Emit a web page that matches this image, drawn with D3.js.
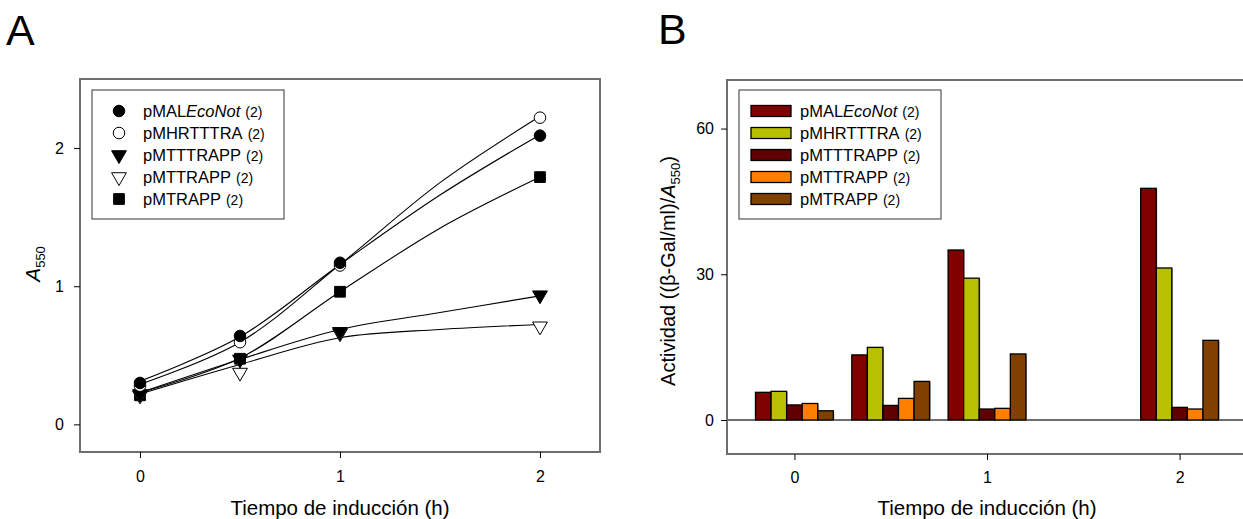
<!DOCTYPE html>
<html><head><meta charset="utf-8">
<script src="https://cdn.jsdelivr.net/npm/d3@7"></script>
<style>body{margin:0;background:#fff}svg{display:block}text{font-family:"Liberation Sans",Arial,sans-serif}</style>
</head><body><svg id="c" width="1243" height="519"></svg>
<script>
// ---------- data ----------
const seriesNames = ["pMAL", "pMHRTTTRA", "pMTTTRAPP", "pMTTRAPP", "pMTRAPP"];
const timesA = [0, 0.5, 1, 2];
const pMALEcoNot = [0.30, 0.64, 1.17, 2.09];
const pMHRTTTRA = [0.28, 0.595, 1.15, 2.22];
const pMTTTRAPP = [0.22, 0.47, 0.67, 0.935];
const pMTTRAPP = [0.21, 0.375, 0.66, 0.71];
const pMTRAPP = [0.21, 0.475, 0.96, 1.79];
// fitted curves
const fitTimes = [0, 0.5, 1, 1.5, 2];
const fitMAL = [0.313, 0.634, 1.157, 1.66, 2.097];
const fitMHR = [0.29, 0.595, 1.157, 1.75, 2.23];
const fitTTT = [0.23, 0.47, 0.687, 0.81, 0.93];
const fitTT = [0.22, 0.434, 0.627, 0.687, 0.723];
const fitTR = [0.23, 0.48, 0.96, 1.42, 1.79];
const xTicksA = [0, 1, 2];
const yTicksA = [0, 1, 2];

const timesB = [0, 0.5, 1, 2];
const actMAL = [5.7, 13.4, 35.0, 47.7];
const actMHR = [5.9, 14.95, 29.2, 31.3];
const actTTT = [3.1, 3.0, 2.26, 2.6];
const actTT = [3.4, 4.45, 2.4, 2.26];
const actTR = [1.9, 7.95, 13.6, 16.4];
const xTicksB = [0, 1, 2];
const yTicksB = [0, 30, 60];
const barColors = ["#800000", "#b8c000", "#600000", "#ff8000", "#804000"];

const svg = d3.select("#c");
const frameColor = "#6e6e6e";

function legendLabel(g, x, y, i) {
  const t = g.append("text").attr("x", x).attr("y", y).attr("font-size", 16.5).attr("fill", "#000");
  if (i === 0) {
    t.append("tspan").text("pMAL");
    t.append("tspan").attr("font-style", "italic").text("EcoNot");
  } else {
    t.append("tspan").text(seriesNames[i]);
  }
  t.append("tspan").attr("font-size", 14).attr("dx", 5).text("(2)");
}

// ---------- Panel A ----------
{
  const L = 80, R = 600, T = 79, B = 452;
  const x = d3.scaleLinear().domain([-0.3, 2.3]).range([L, R]);
  const y = d3.scaleLinear().domain([-0.2, 2.5]).range([B, T]);
  const g = svg.append("g");
  g.append("rect").attr("x", L).attr("y", T).attr("width", R - L).attr("height", B - T)
    .attr("fill", "none").attr("stroke", frameColor).attr("stroke-width", 2);
  const xa = g.append("g").attr("transform", `translate(0,${B})`)
    .call(d3.axisBottom(x).tickValues(xTicksA).tickSize(6).tickPadding(13).tickFormat(d3.format("d")));
  const ya = g.append("g").attr("transform", `translate(${L},0)`)
    .call(d3.axisLeft(y).tickValues(yTicksA).tickSize(6).tickPadding(10).tickFormat(d3.format("d")));
  [xa, ya].forEach(a => {
    a.select(".domain").remove();
    a.selectAll("line").attr("stroke", "#000");
    a.selectAll("text").attr("font-size", 16).attr("font-family", "Liberation Sans, Arial, sans-serif");
  });
  g.append("text").attr("x", x(1)).attr("y", 515).attr("text-anchor", "middle")
    .attr("font-size", 20.5).text("Tiempo de inducción (h)");
  const yl = g.append("text").attr("transform", `translate(40,264) rotate(-90)`).attr("text-anchor", "middle").attr("font-size", 21);
  yl.append("tspan").attr("font-style", "italic").text("A");
  yl.append("tspan").attr("font-size", 13).attr("dy", 5).text("550");
  svg.append("text").attr("x", 6).attr("y", 45).attr("font-size", 43).text("A");

  const fits = [fitMAL, fitMHR, fitTTT, fitTT, fitTR];
  const line = d3.line().x((d, i) => x(fitTimes[i])).y(d => y(d)).curve(d3.curveCatmullRom.alpha(0.5));
  fits.forEach(f => g.append("path").attr("d", line(f)).attr("fill", "none").attr("stroke", "#000").attr("stroke-width", 1.1));

  const data = [pMALEcoNot, pMHRTTTRA, pMTTTRAPP, pMTTRAPP, pMTRAPP];
  const sym = [
    {t: d3.symbolCircle, s: 105, fill: "#000"},
    {t: d3.symbolCircle, s: 105, fill: "#fff"},
    {t: d3.symbolTriangle, s: 95, fill: "#000", rot: 180},
    {t: d3.symbolTriangle, s: 95, fill: "#fff", rot: 180},
    {t: d3.symbolSquare, s: 115, fill: "#000"}
  ];
  const drawSym = (gg, k, cx, cy) => {
    gg.append("path").attr("d", d3.symbol().type(sym[k].t).size(sym[k].s)())
      .attr("transform", `translate(${cx},${cy}) rotate(${sym[k].rot || 0})`)
      .attr("fill", sym[k].fill).attr("stroke", "#000").attr("stroke-width", 1);
  };
  [4, 3, 2, 1, 0].forEach(k => {
    data[k].forEach((v, i) => drawSym(g, k, x(timesA[i]), y(v)));
  });

  // legend
  const lg = g.append("g");
  lg.append("rect").attr("x", 92).attr("y", 90).attr("width", 192).attr("height", 129)
    .attr("fill", "#fff").attr("stroke", "#333").attr("stroke-width", 1);
  for (let i = 0; i < 5; i++) {
    const cy = 111 + i * 22;
    drawSym(lg, i, 119, cy);
    legendLabel(lg, 143, cy + 6, i);
  }
}

// ---------- Panel B ----------
{
  const L = 727, R = 1247, T = 80, B = 454;
  const x = d3.scaleLinear().domain([-0.35, 2.35]).range([L, R]);
  const y = d3.scaleLinear().domain([-7, 70]).range([B, T]);
  const g = svg.append("g");
  g.append("rect").attr("x", L).attr("y", T).attr("width", R - L).attr("height", B - T)
    .attr("fill", "none").attr("stroke", frameColor).attr("stroke-width", 2);
  g.append("line").attr("x1", L).attr("x2", R).attr("y1", y(0)).attr("y2", y(0))
    .attr("stroke", frameColor).attr("stroke-width", 2);
  const xa = g.append("g").attr("transform", `translate(0,${B})`)
    .call(d3.axisBottom(x).tickValues(xTicksB).tickSize(6).tickPadding(12).tickFormat(d3.format("d")));
  const ya = g.append("g").attr("transform", `translate(${L},0)`)
    .call(d3.axisLeft(y).tickValues(yTicksB).tickSize(6).tickPadding(7).tickFormat(d3.format("d")));
  [xa, ya].forEach(a => {
    a.select(".domain").remove();
    a.selectAll("line").attr("stroke", "#000");
    a.selectAll("text").attr("font-size", 16).attr("font-family", "Liberation Sans, Arial, sans-serif");
  });
  g.append("text").attr("x", x(1)).attr("y", 515).attr("text-anchor", "middle")
    .attr("font-size", 20.5).text("Tiempo de inducción (h)");
  const yl = g.append("text").attr("transform", `translate(675,271) rotate(-90)`).attr("text-anchor", "middle").attr("font-size", 20);
  yl.append("tspan").text("Actividad ((β-Gal/ml)/");
  yl.append("tspan").attr("font-style", "italic").text("A");
  yl.append("tspan").attr("font-size", 13).attr("dy", 5).text("550");
  yl.append("tspan").attr("dy", -5).text(")");
  svg.append("text").attr("x", 658).attr("y", 44).attr("font-size", 43).text("B");

  const acts = [actMAL, actMHR, actTTT, actTT, actTR];
  const groupW = 0.404;
  const inner = d3.scaleBand().domain(d3.range(5)).range([-groupW / 2, groupW / 2]).padding(0);
  acts.forEach((arr, k) => {
    arr.forEach((v, i) => {
      const x0 = x(timesB[i] + inner(k)), x1 = x(timesB[i] + inner(k) + inner.bandwidth());
      g.append("rect").attr("x", x0 + 1).attr("y", y(v) + 1).attr("width", x1 - x0).attr("height", y(0) - y(v))
        .attr("fill", "#999");
      g.append("rect").attr("x", x0).attr("y", y(v)).attr("width", x1 - x0).attr("height", y(0) - y(v))
        .attr("fill", barColors[k]).attr("stroke", "#000").attr("stroke-width", 1.3);
    });
  });

  const lg = g.append("g");
  lg.append("rect").attr("x", 739).attr("y", 90).attr("width", 202).attr("height", 129)
    .attr("fill", "#fff").attr("stroke", "#333").attr("stroke-width", 1);
  for (let i = 0; i < 5; i++) {
    const cy = 111 + i * 22;
    lg.append("rect").attr("x", 751).attr("y", cy - 5.5).attr("width", 40).attr("height", 11)
      .attr("fill", barColors[i]).attr("stroke", "#000").attr("stroke-width", 1.3);
    legendLabel(lg, 800, cy + 6, i);
  }
}
</script></body></html>
